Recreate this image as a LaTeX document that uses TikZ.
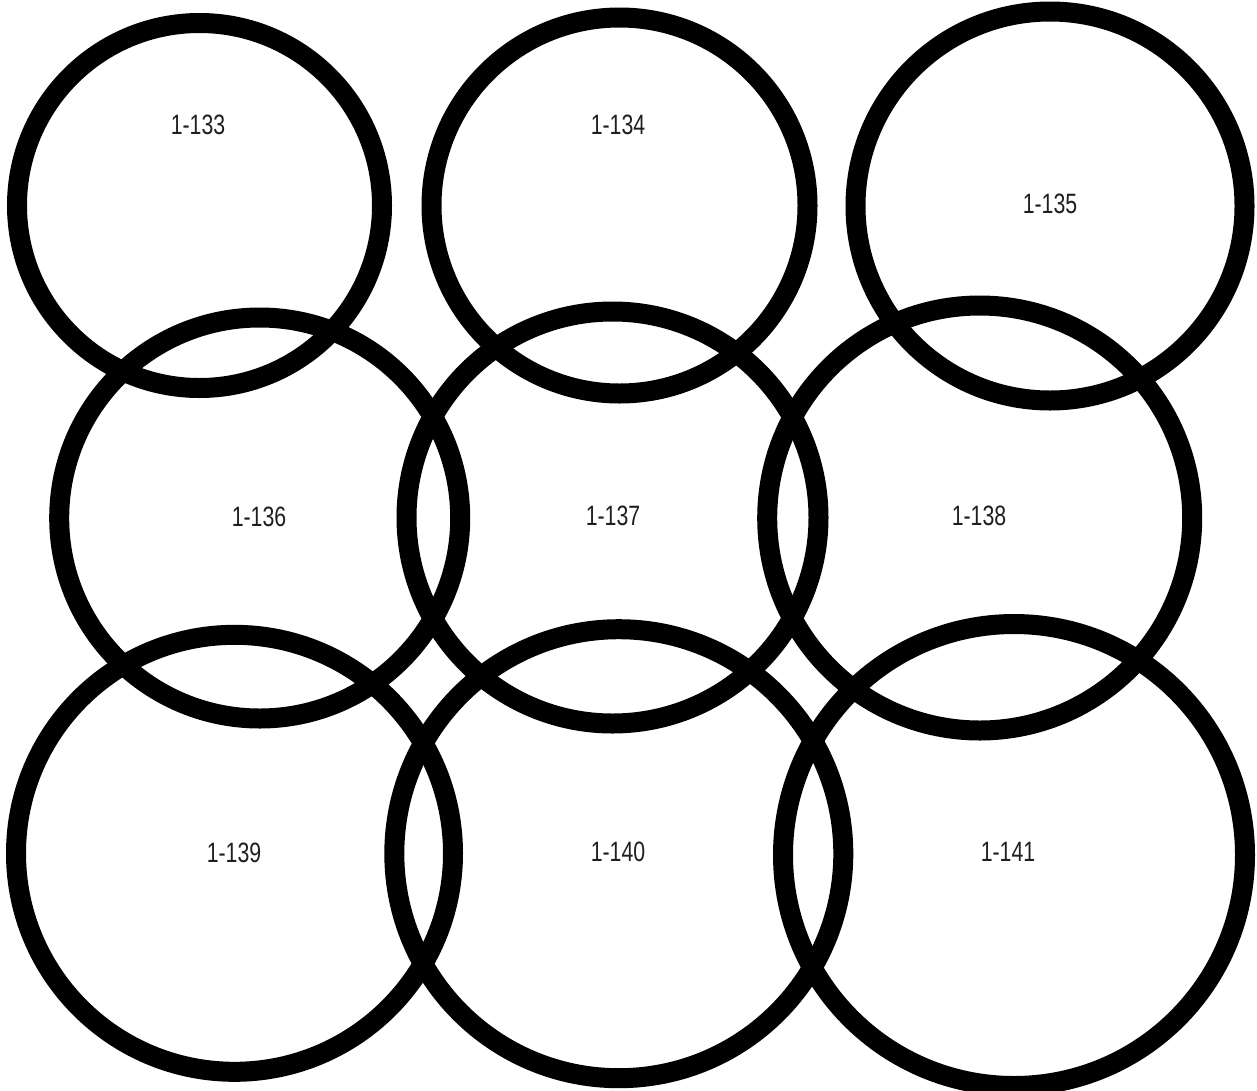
\documentclass[tikz,border=0pt]{standalone}
\usepackage{fontspec}
\newfontfamily\labfont{Liberation Sans}[FakeStretch=0.76]
\begin{document}
\begin{tikzpicture}[x=1pt,y=-1pt,
  ring/.style={circle,draw=black,line width=20pt,inner sep=0pt,minimum size=#1},
  lab/.style={font=\labfont\fontsize{28}{30}\selectfont,text=black!88,inner sep=0pt}]
\useasboundingbox (0,0) rectangle (1257,1090);
\node[ring=365pt] (c133) at (199.5,205.5) {};
\node[ring=376pt] (c134) at (619.5,205.5) {};
\node[ring=389pt] (c135) at (1050,206) {};
\node[ring=401pt] (c136) at (259.7,518) {};
\node[ring=412pt] (c137) at (612.5,517.5) {};
\node[ring=425pt] (c138) at (979.7,518) {};
\node[ring=437pt] (c139) at (234.5,853.3) {};
\node[ring=449pt] (c140) at (618.8,853.7) {};
\node[ring=462pt] (c141) at (1014,855) {};
\node[lab] (t133) at (198,125) {1-133};
\node[lab] (t134) at (618,125) {1-134};
\node[lab] (t135) at (1050,204) {1-135};
\node[lab] (t136) at (259,517) {1-136};
\node[lab] (t137) at (613,516) {1-137};
\node[lab] (t138) at (979,516) {1-138};
\node[lab] (t139) at (234,853) {1-139};
\node[lab] (t140) at (618,852) {1-140};
\node[lab] (t141) at (1008,852) {1-141};
\end{tikzpicture}
\end{document}
